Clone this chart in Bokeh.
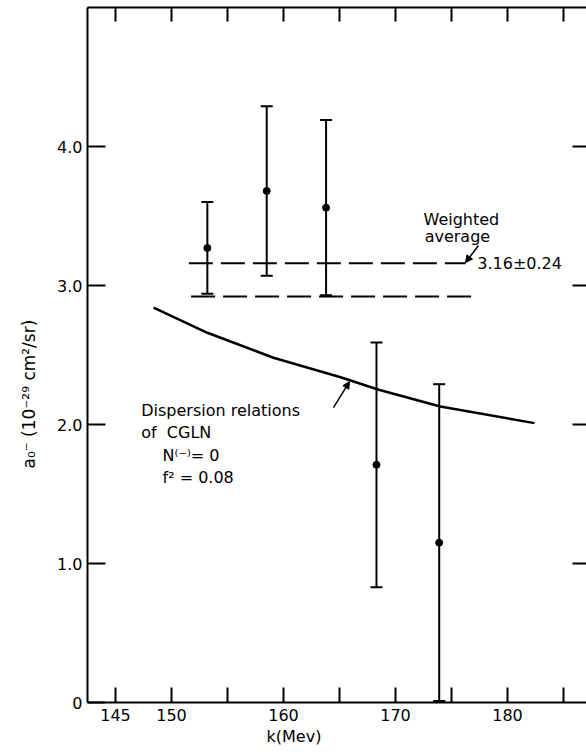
import math
from bokeh.plotting import figure
from bokeh.models import (Range1d, LinearAxis, FixedTicker, Whisker, TeeHead,
                          ColumnDataSource, Label, Arrow, NormalHead,
                          PrintfTickFormatter, Title)
from bokeh.embed import file_html
from bokeh.resources import INLINE

# ---- data ----
k_mev = [153.2, 158.5, 163.8, 168.3, 173.9]
a0 = [3.27, 3.68, 3.56, 1.71, 1.15]
a0_err = [0.33, 0.61, 0.63, 0.88, 1.14]

# dispersion-relation curve (CGLN, N(-)=0, f^2=0.08)
curve_k = [148.4, 153.2, 159.1, 165.1, 168.5, 174.0, 182.4]
curve_a = [2.84, 2.66, 2.48, 2.34, 2.25, 2.13, 2.01]

# weighted average 3.16 +/- 0.24 (upper and lower dashed lines)
avg_value = 3.16
avg_err = 0.24
avg_lines_y = [avg_value, avg_value - avg_err]
avg_lines_x0 = [151.55, 151.75]
avg_lines_x1 = [176.25, 176.9]

x_ticks = [145, 150, 155, 160, 165, 170, 175, 180, 185]
x_unlabeled = [155, 165, 175, 185]
y_ticks = [0, 1, 2, 3, 4]

FONT = "DejaVu Sans"

p = figure(width=586, height=755, output_backend="svg", toolbar_location=None,
           x_range=Range1d(142.5, 187.05), y_range=Range1d(0, 5.0),
           x_axis_type=None, y_axis_type=None,
           min_border_left=87, min_border_right=0, min_border_top=7,
           min_border_bottom=53)
p.outline_line_color = None
p.background_fill_color = "white"
p.border_fill_color = "white"


def style_axis(ax, tick_in):
    ax.axis_line_color = "black"
    ax.axis_line_width = 2
    ax.major_tick_line_color = "black"
    ax.major_tick_line_width = 2
    ax.major_tick_in = tick_in
    ax.major_tick_out = 0
    ax.minor_tick_line_color = None
    ax.major_label_text_font = FONT
    ax.major_label_text_font_size = "16px"
    ax.major_label_text_color = "black"


bottom = LinearAxis(ticker=FixedTicker(ticks=x_ticks))
style_axis(bottom, 15)
bottom.major_label_overrides = {t: "" for t in x_unlabeled}
bottom.major_label_standoff = 6
p.add_layout(bottom, "below")

top = LinearAxis(ticker=FixedTicker(ticks=x_ticks))
style_axis(top, 14)
top.major_label_overrides = {t: "" for t in x_ticks}
top.major_label_text_font_size = "1px"
top.major_label_standoff = 0
p.add_layout(top, "above")

left = LinearAxis(ticker=FixedTicker(ticks=y_ticks),
                  formatter=PrintfTickFormatter(format="%.1f"))
style_axis(left, 18)
left.major_label_overrides = {0: "0"}
left.major_label_standoff = 5
p.add_layout(left, "left")

right = LinearAxis(ticker=FixedTicker(ticks=y_ticks[1:]))
style_axis(right, 14)
right.axis_line_alpha = 0
right.major_label_overrides = {t: "" for t in y_ticks}
right.major_label_text_font_size = "1px"
right.major_label_standoff = 0
p.add_layout(right, "right")

# axis titles (side titles, placed off-centre as in the original)
p.add_layout(Title(text="k(Mev)", align="left", offset=179, standoff=2,
                   text_font=FONT, text_font_size="16px",
                   text_font_style="normal", text_color="black"), "below")
p.add_layout(Title(text="a₀⁻ (10⁻²⁹ cm²/sr)", align="left", offset=234,
                   standoff=32, text_font=FONT, text_font_size="17px",
                   text_font_style="normal", text_color="black"), "left")

# dashed weighted-average lines
p.segment(x0=avg_lines_x0, y0=avg_lines_y, x1=avg_lines_x1, y1=avg_lines_y,
          line_color="black", line_width=2, line_dash="24 8")

# theory curve
p.line(curve_k, curve_a, line_color="black", line_width=2.5)

# error bars
src = ColumnDataSource(dict(
    k=k_mev, a=a0,
    hi=[v + e for v, e in zip(a0, a0_err)],
    lo=[max(v - e, 0) for v, e in zip(a0, a0_err)]))
wh = Whisker(source=src, base="k", upper="hi", lower="lo", dimension="height",
             line_color="black", line_width=2,
             upper_head=TeeHead(size=12, line_width=2, line_color="black"),
             lower_head=TeeHead(size=12, line_width=2, line_color="black"))
p.add_layout(wh)
p.scatter("k", "a", source=src, size=7, color="black")


def lab(x, y, text, align="left"):
    p.add_layout(Label(x=x, y=y, text=text, text_font=FONT,
                       text_font_size="16px", text_color="black",
                       text_align=align, text_baseline="middle"))


lab(172.5, 3.475, "Weighted")
lab(172.6, 3.353, "average")
lab(177.3, 3.155, "3.16±0.24")
p.add_layout(Arrow(x_start=177.41, y_start=3.288, x_end=176.25, y_end=3.165,
                   line_color="black", line_width=1.5,
                   end=NormalHead(size=7, fill_color="black", line_color="black")))

lab(147.3, 2.101, "Dispersion relations")
lab(147.3, 1.942, "of\u00a0\u00a0CGLN")
lab(149.2, 1.777, "N⁽⁻⁾= 0")
lab(149.2, 1.619, "f² = 0.08")
p.add_layout(Arrow(x_start=164.46, y_start=2.122, x_end=165.89, y_end=2.309,
                   line_color="black", line_width=1.5,
                   end=NormalHead(size=7, fill_color="black", line_color="black")))

open("out.html", "w").write(file_html(p, INLINE))
